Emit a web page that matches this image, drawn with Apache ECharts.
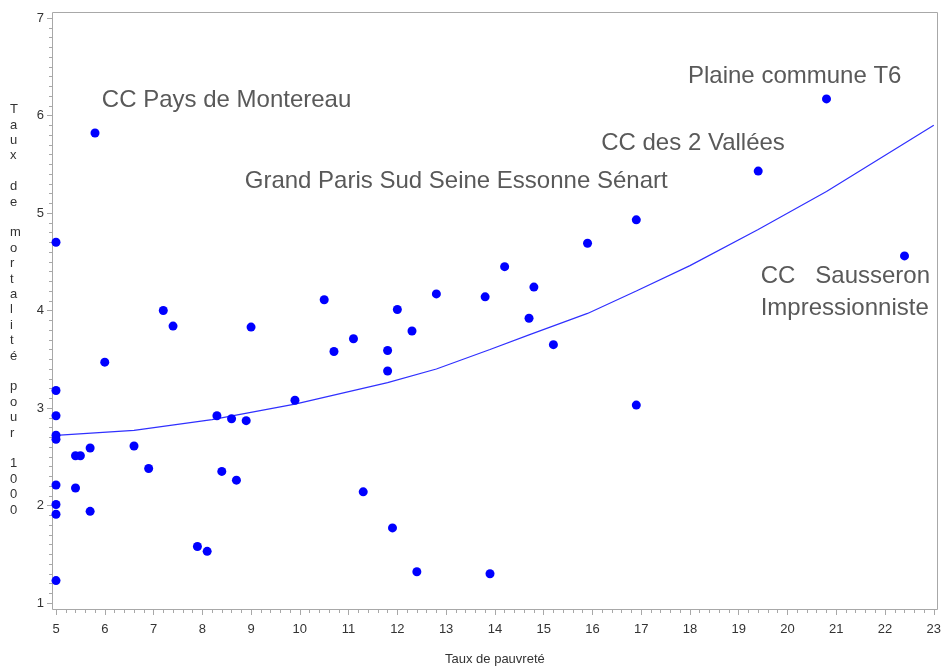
<!DOCTYPE html>
<html>
<head>
<meta charset="utf-8">
<script src="https://cdn.jsdelivr.net/npm/echarts@6/dist/echarts.min.js"></script>
<style>
html,body{margin:0;padding:0;background:#fff;}
#chart{width:944px;height:671px;}
</style>
</head>
<body>
<div id="chart"></div>
<script>
// Scatter data: poverty rate (x) vs mortality rate per 1000 (y)
const povertyX = [5,5,5,5,5,5,5,5,5,
  5.4,5.5,5.4,5.7,5.7,
  5.8,6.0,6.6,6.9,7.2,7.4,
  7.9,8.1,8.3,8.4,8.6,8.7,8.9,9.0,
  9.9,10.5,10.7,11.1,11.3,
  11.8,11.8,11.9,12.0,12.3,12.4,12.8,
  13.8,13.9,14.2,14.7,14.8,15.2,
  15.9,16.9,16.9,19.4,20.8,22.4];
const mortalityY = [4.70,3.18,2.92,2.72,2.68,2.21,2.01,1.91,1.23,
  2.51,2.51,2.18,2.59,1.94,
  5.82,3.47,2.61,2.38,4.00,3.84,
  1.58,1.53,2.92,2.35,2.89,2.26,2.87,3.83,
  3.08,4.11,3.58,3.71,2.14,
  3.59,3.38,1.77,4.01,3.79,1.32,4.17,
  4.14,1.30,4.45,3.92,4.24,3.65,
  4.69,4.93,3.03,5.43,6.17,4.56];

// Fitted curve
const fitX = [5,6.6,8.2,9.9,11.8,12.8,13.9,14.7,15.9,16.9,18.0,19.4,20.8,23];
const fitY = [2.72,2.77,2.88,3.04,3.26,3.40,3.60,3.75,3.97,4.20,4.46,4.83,5.22,5.90];

// Annotations (text, anchored at data coordinates: left edge, vertical middle)
const labelTexts = ['CC Pays de Montereau','Grand Paris Sud Seine Essonne Sénart','CC des 2 Vallées','Plaine commune T6','CC   Sausseron\nImpressionniste'];
const labelX = [5.94,8.87,16.18,17.96,19.45];
const labelY = [6.16,5.32,5.71,6.40,4.19];

const xTitle = 'Taux de pauvreté';
const yTitle = 'Taux de mortalité pour 1000';

const chart = echarts.init(document.getElementById('chart'), null, {renderer:'canvas'});
const FONT = '"Liberation Sans", Arial, sans-serif';
const axisGray = '#a8a8a8';

const option = {
  animation:false,
  backgroundColor:'#fff',
  grid:{left:56,right:10,top:18,bottom:67,containLabel:false},
  xAxis:{
    type:'value',min:5,max:23,interval:1,offset:6,
    name:xTitle,nameLocation:'middle',nameGap:44,
    nameTextStyle:{fontFamily:FONT,fontSize:13,color:'#333'},
    axisLine:{show:true,lineStyle:{color:axisGray}},
    axisTick:{show:true,length:6,lineStyle:{color:axisGray}},
    minorTick:{show:true,splitNumber:5,length:4,lineStyle:{color:axisGray}},
    axisLabel:{margin:14,fontFamily:FONT,fontSize:13,color:'#333'},
    splitLine:{show:false}
  },
  yAxis:{
    type:'value',min:1,max:7,interval:1,offset:4,
    axisLine:{show:true,lineStyle:{color:axisGray}},
    axisTick:{show:true,length:5,lineStyle:{color:axisGray}},
    minorTick:{show:true,splitNumber:10,length:3,lineStyle:{color:axisGray}},
    axisLabel:{margin:8,fontFamily:FONT,fontSize:13,color:'#333'},
    splitLine:{show:false}
  },
  graphic:[
    {type:'rect',silent:true,z:-1,shape:{x:52.5,y:12.5,width:885,height:597},
     style:{fill:null,stroke:axisGray,lineWidth:1}},
    {type:'text',left:10,top:102,silent:true,
     style:{text:yTitle.split('').join('\n'),fontFamily:FONT,fontSize:13,lineHeight:15.4,
            fill:'#333',align:'center'}}
  ],
  series:[
    {
      type:'line',
      data:fitX.map((x,i)=>[x,fitY[i]]),
      showSymbol:false,symbol:'none',smooth:false,
      lineStyle:{color:'#3030ff',width:1.2,opacity:1},
      z:2
    },
    {
      type:'scatter',
      data:povertyX.map((x,i)=>[x,mortalityY[i]]),
      symbol:'circle',symbolSize:9,
      itemStyle:{color:'#0000ff',opacity:1},
      z:3
    },
    {
      type:'scatter',
      data:labelX.map((x,i)=>({value:[x,labelY[i]],label:{formatter:labelTexts[i]}})),
      symbolSize:0,silent:true,
      itemStyle:{opacity:1},
      label:{show:true,position:'inside',align:'left',verticalAlign:'middle',
        fontFamily:FONT,fontSize:24,lineHeight:32,color:'#595959',opacity:1},
      z:4
    }
  ]
};
chart.setOption(option);
</script>
</body>
</html>
